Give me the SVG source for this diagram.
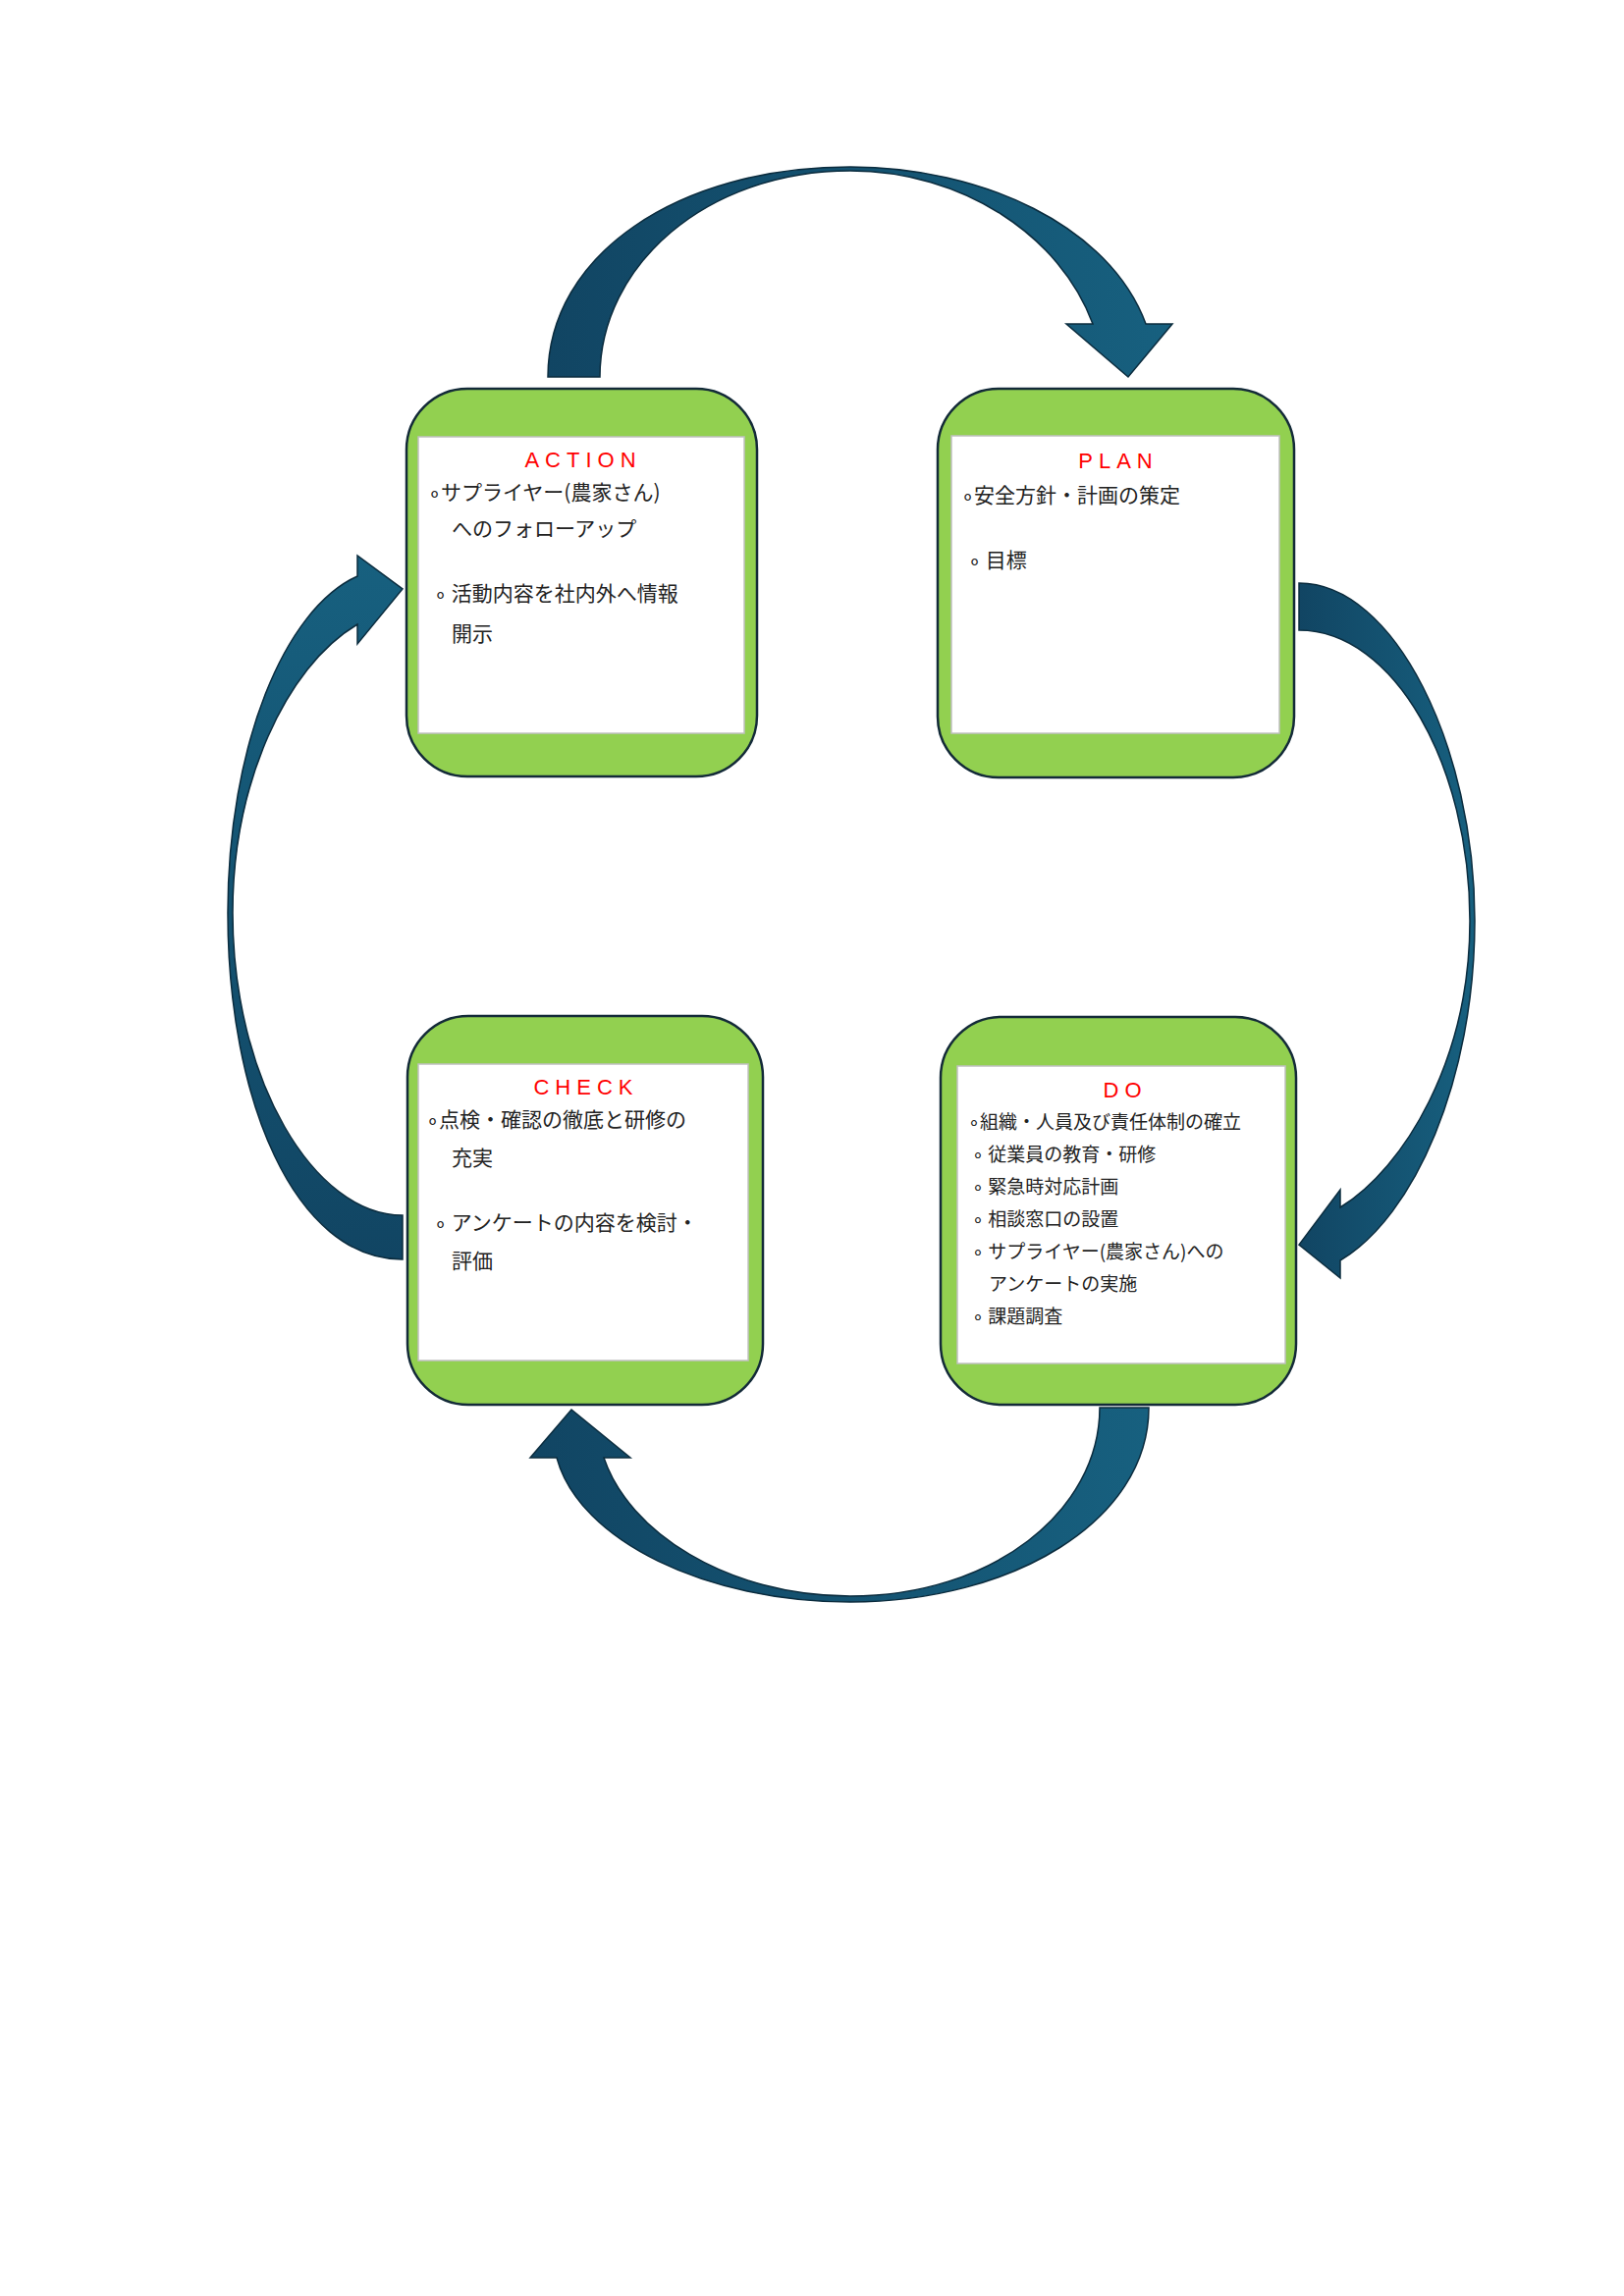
<svg xmlns="http://www.w3.org/2000/svg" width="1654" height="2339" viewBox="0 0 1654 2339">
<defs>
<linearGradient id="ag" x1="0" y1="0" x2="1" y2="0"><stop offset="0" stop-color="#114563"/><stop offset="1" stop-color="#17607f"/></linearGradient>
<linearGradient id="agv" x1="0" y1="0" x2="0" y2="1"><stop offset="0" stop-color="#17607f"/><stop offset="1" stop-color="#114563"/></linearGradient>
</defs>
<style>
.box{fill:#92d050;stroke:#132a38;stroke-width:2.5}
.in{fill:#fff;stroke:#c0c0c0;stroke-width:1.5}
.arr{stroke:#0b2c3e;stroke-width:1.5}
.t{font-family:"Liberation Sans","Noto Sans CJK JP",sans-serif;font-size:22px;fill:#ff0000;letter-spacing:6px;text-anchor:middle}
.b{font-family:"Noto Sans CJK JP",sans-serif;font-size:21px;fill:#222}
.s{font-family:"Noto Sans CJK JP",sans-serif;font-size:19px;fill:#222}
</style>
<rect width="1654" height="2339" fill="#fff"/>
<g id="connectors">
<path class="arr" fill="url(#ag)" d="M558,384 L611,384 C611,270 720,174 866,174 C980,174 1080,240 1113,330 L1086,330 L1149,384 L1194,330 L1167,330 C1130,230 1000,170 866,170 C690,170 558,260 558,384 Z"/>
<path class="arr" fill="url(#ag)" d="M1323,594 C1420,594 1502,760 1502,938 C1502,1100 1440,1240 1365,1284 L1365,1302 L1323,1268 L1365,1212 L1365,1230 C1430,1190 1497,1080 1497,938 C1497,780 1420,642 1323,642 Z"/>
<path class="arr" fill="url(#ag)" d="M1120,1434 L1170,1434 C1170,1550 1030,1632 866,1632 C720,1632 590,1570 567,1485 L540,1485 L582,1436 L642,1485 L615,1485 C640,1560 740,1626 866,1626 C1010,1626 1120,1540 1120,1434 Z"/>
<path class="arr" fill="url(#agv)" d="M410,1283 C300,1283 232,1120 232,930 C232,760 290,620 364,587 L364,566 L410,600 L364,656 L364,636 C290,680 237,800 237,930 C237,1100 320,1238 410,1238 Z"/>
</g>
<g id="action">
<rect class="box" x="414" y="396" width="357" height="395" rx="62"/>
<rect class="in" x="426" y="445" width="332" height="302"/>
<text class="t" x="594" y="476">ACTION</text>
<text class="b" x="436" y="509">∘サプライヤー(農家さん)</text>
<text class="b" x="460" y="546">へのフォローアップ</text>
<text class="b" x="442" y="612">∘ 活動内容を社内外へ情報</text>
<text class="b" x="460" y="653">開示</text>
</g>
<g id="plan">
<rect class="box" x="955" y="396" width="363" height="396" rx="62"/>
<rect class="in" x="969" y="444" width="334" height="303"/>
<text class="t" x="1139" y="477">PLAN</text>
<text class="b" x="979" y="512">∘安全方針・計画の策定</text>
<text class="b" x="986" y="578">∘ 目標</text>
</g>
<g id="check">
<rect class="box" x="415" y="1035" width="362" height="396" rx="62"/>
<rect class="in" x="426" y="1084" width="336" height="302"/>
<text class="t" x="597" y="1115">CHECK</text>
<text class="b" x="434" y="1148">∘点検・確認の徹底と研修の</text>
<text class="b" x="460" y="1187">充実</text>
<text class="b" x="442" y="1253">∘ アンケートの内容を検討・</text>
<text class="b" x="460" y="1292">評価</text>
</g>
<g id="do">
<rect class="box" x="958" y="1036" width="362" height="395" rx="62"/>
<rect class="in" x="975" y="1086" width="334" height="303"/>
<text class="t" x="1146" y="1118">DO</text>
<text class="s" x="986" y="1150">∘組織・人員及び責任体制の確立</text>
<text class="s" x="990" y="1183">∘ 従業員の教育・研修</text>
<text class="s" x="990" y="1216">∘ 緊急時対応計画</text>
<text class="s" x="990" y="1249">∘ 相談窓口の設置</text>
<text class="s" x="990" y="1282">∘ サプライヤー(農家さん)への</text>
<text class="s" x="1007" y="1315">アンケートの実施</text>
<text class="s" x="990" y="1348">∘ 課題調査</text>
</g>
</svg>
